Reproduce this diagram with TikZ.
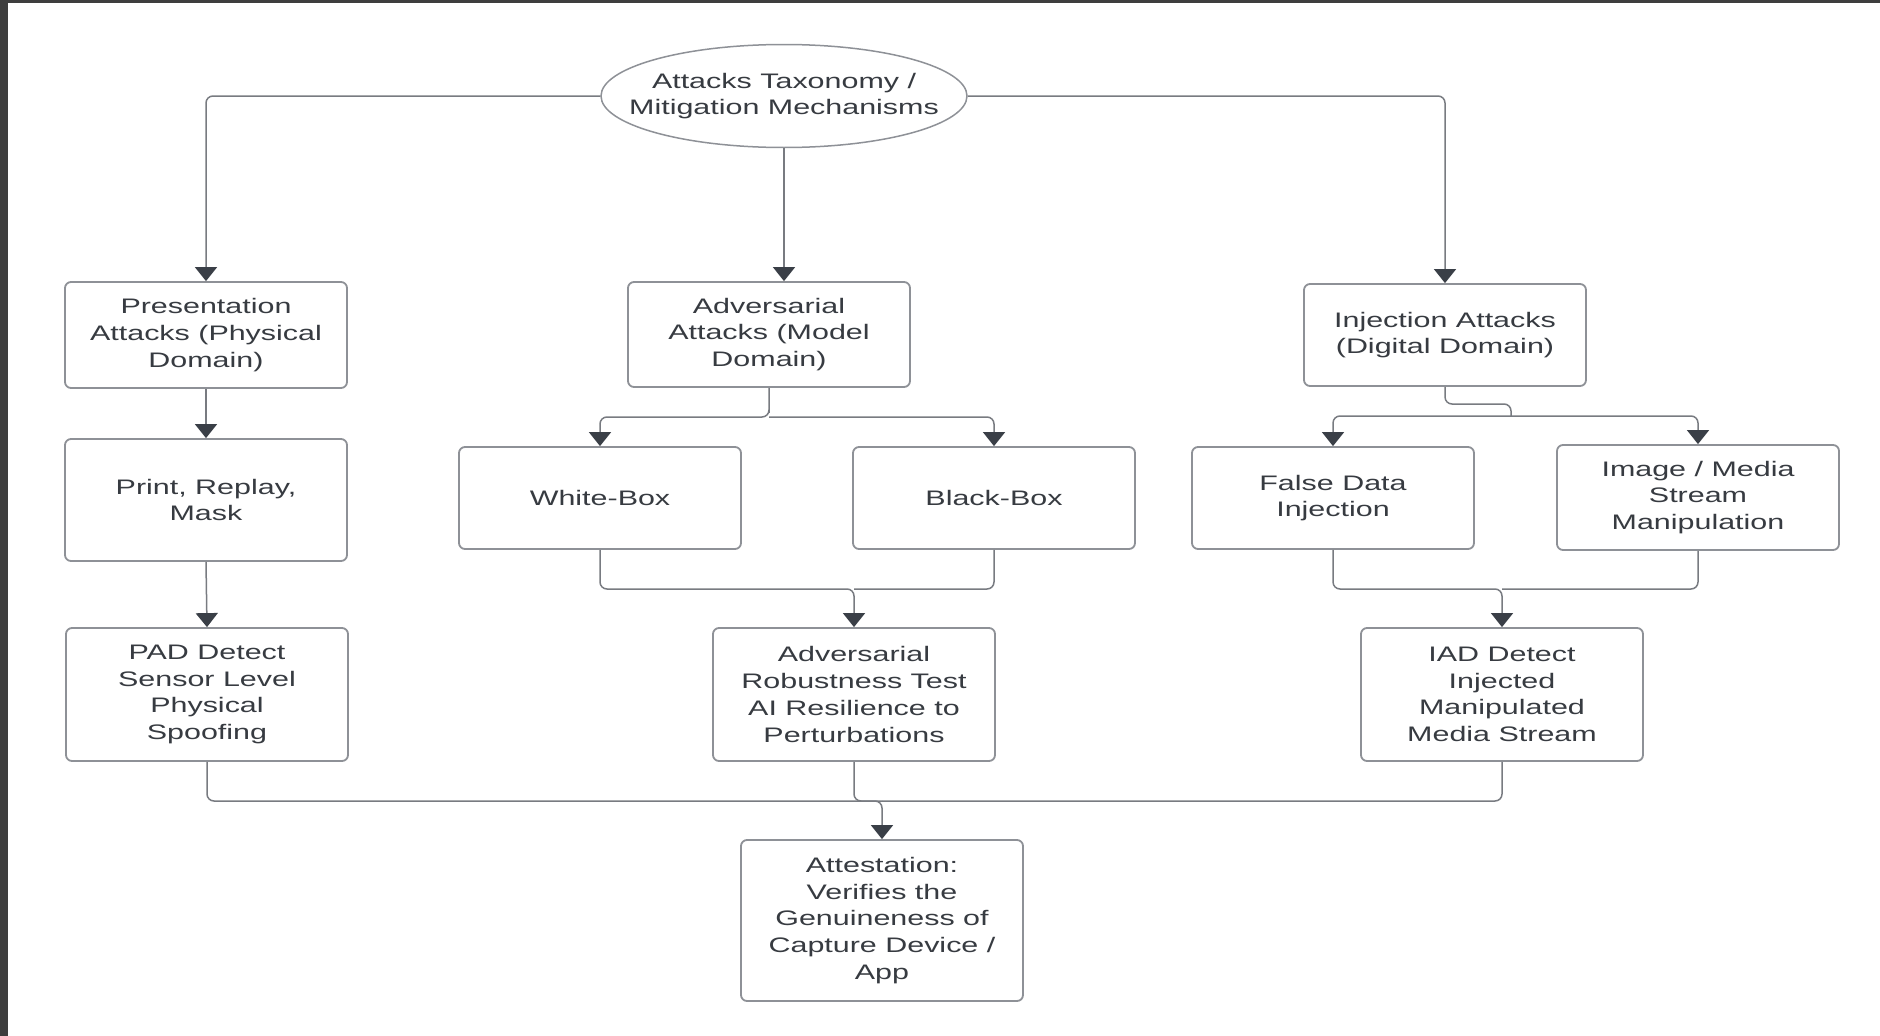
\documentclass[tikz,border=0pt]{standalone}
\usepackage{fontspec}
\setmainfont{Liberation Sans}[FakeStretch=1.45]
\usetikzlibrary{arrows.meta,shapes.geometric}
\definecolor{txt}{RGB}{55,59,65}
\definecolor{boxgray}{RGB}{142,145,151}
\definecolor{linegray}{RGB}{120,123,129}
\definecolor{arrowc}{RGB}{58,63,71}
\definecolor{frame}{RGB}{62,62,62}
\tikzset{
  box/.style={draw=boxgray, line width=1.8pt, rounded corners=6pt, minimum width=282pt,
    align=center, text=txt, inner sep=0pt, font=\fontsize{21}{26.7}\selectfont},
  conn/.style={draw=linegray, line width=1.5pt, rounded corners=7pt},
  arr/.style={conn, -{Triangle[width=22pt,length=14pt,color=arrowc]}}
}
\begin{document}
\begin{tikzpicture}[x=1pt,y=-1pt]
\useasboundingbox (0,0) rectangle (1880,1036);
\fill[white] (0,0) rectangle (1880,1036);
\fill[frame] (0,0) rectangle (8,1036);
\fill[frame] (0,0) rectangle (1880,3);

\node[ellipse, draw=boxgray, line width=1.5pt, minimum width=366pt, minimum height=103pt,
  inner sep=0pt] (root) at (784,96) {};
\node[align=center, text=txt, inner sep=0pt, font=\fontsize{21}{26.7}\selectfont]
  (rootlbl) at (root.center) {Attacks Taxonomy /\\Mitigation Mechanisms};

\node[box, minimum height=106pt] (pres) at (206,335) {Presentation\\Attacks (Physical\\Domain)};
\node[box, minimum height=105pt] (adv) at (769,334.5) {Adversarial\\Attacks (Model\\Domain)};
\node[box, minimum height=102pt] (inj) at (1445,335) {Injection Attacks\\(Digital Domain)};

\node[box, minimum height=122pt] (print) at (206,500) {Print, Replay,\\Mask};
\node[box, minimum height=102pt] (wb) at (600,498) {White-Box};
\node[box, minimum height=102pt] (bb) at (994,498) {Black-Box};
\node[box, minimum height=102pt] (fd) at (1333,498) {False Data\\Injection};
\node[box, minimum height=105pt] (im) at (1698,497.5) {Image / Media\\Stream\\Manipulation};

\node[box, minimum height=133pt] (pad) at (207,694.5) {PAD Detect\\Sensor Level\\Physical\\Spoofing};
\node[box, minimum height=133pt] (ar) at (854,694.5) {Adversarial\\Robustness Test\\AI Resilience to\\Perturbations};
\node[box, minimum height=133pt] (iad) at (1502,694.5) {IAD Detect\\Injected\\Manipulated\\Media Stream};

\node[box, minimum height=161pt] (att) at (882,920.5) {Attestation:\\Verifies the\\Genuineness of\\Capture Device /\\App};

% top level
\draw[arr] (root.west) -| (pres.north);
\draw[arr] (root.east) -| (inj.north);
\draw[arr] (root.south) -- (root.south |- adv.north);

% second level
\draw[arr] (pres.south) -- (print.north);
\coordinate (ja) at (769,417);
\draw[arr] (adv.south) |- (ja) -| (wb.north);
\draw[arr] (ja) -| (bb.north);
\coordinate (ji1) at (1511,404);
\coordinate (ji2) at (1511,416);
\draw[conn] (inj.south) |- (ji1) -- (ji2);
\draw[arr] (ji2) -| (fd.north);
\draw[arr] (ji2) -| (im.north);

% third level
\draw[arr] (print.south) -- (pad.north);
\coordinate (jm) at (854,589);
\draw[arr] (wb.south) |- (jm) -- (ar.north);
\draw[conn] (bb.south) |- (jm);
\coordinate (jr) at (1502,589);
\draw[arr] (fd.south) |- (jr) -- (iad.north);
\draw[conn] (im.south) |- (jr);

% bottom
\coordinate (jb) at (882,801);
\draw[arr] (pad.south) |- (jb) -- (att.north);
\draw[conn] (ar.south) |- (jb);
\draw[conn] (iad.south) |- (jb);
\end{tikzpicture}
\end{document}
